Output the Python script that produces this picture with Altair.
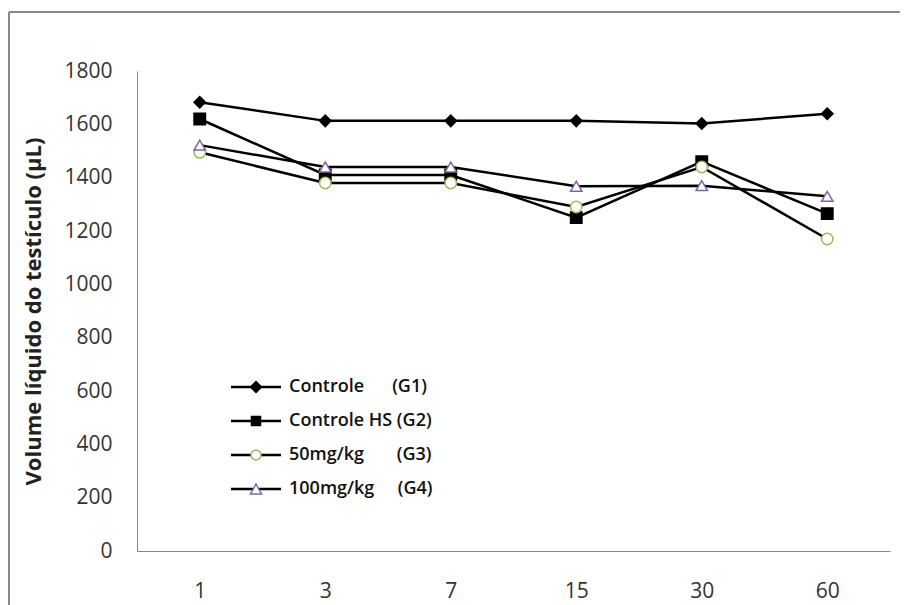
import altair as alt
import pandas as pd

NB = "\u00a0"
days = ["1", "3", "7", "15", "30", "60"]
series = [
    "Controle" + NB * 6 + "(G1)",
    "Controle HS (G2)",
    "50mg/kg" + NB * 7 + "(G3)",
    "100mg/kg" + NB * 5 + "(G4)",
]
g1 = [1683, 1613, 1613, 1613, 1603, 1640]
g2 = [1620, 1410, 1410, 1250, 1460, 1265]
g3 = [1495, 1380, 1380, 1290, 1440, 1170]
g4 = [1522, 1440, 1440, 1368, 1370, 1330]
y_ticks = [0, 200, 400, 600, 800, 1000, 1200, 1400, 1600, 1800]

marker_shapes = ["diamond", "square", "circle", "triangle-up"]
marker_fill = ["black", "black", "white", "white"]
marker_stroke = ["black", "black", "#9BBB59", "#8064A2"]

# legend line symbols (unit = 9.5px with symbolSize 361)
legend_lines = [
    "M-2.63,0L2.63,0",
    "M-2.63,0L2.63,0",
    "M-2.63,0L-0.53,0M0.53,0L2.63,0",
    "M-2.63,0L-0.32,0M0.32,0L2.63,0",
]
# legend marker symbols (unit = 10px with symbolSize 400)
legend_marks = [
    "M0,-0.55L0.55,0L0,0.55L-0.55,0Z",
    "M-0.45,-0.45L0.45,-0.45L0.45,0.45L-0.45,0.45Z",
    "M-0.5,0A0.5,0.5,0,1,0,0.5,0A0.5,0.5,0,1,0,-0.5,0Z",
    "M0,-0.5L0.55,0.5L-0.55,0.5Z",
]

rows = []
for name, vals in zip(series, [g1, g2, g3, g4]):
    for d, v in zip(days, vals):
        rows.append({"day": d, "value": v, "series": name})
df = pd.DataFrame(rows)

FONT = "Open Sans"
W, H = 753, 480

x_enc = alt.X(
    "day:O",
    sort=days,
    scale=alt.Scale(type="point", padding=0.5),
    axis=alt.Axis(
        title=None, labelAngle=0, tickSize=0, labelPadding=29, domainColor="#888888",
        labelFontSize=21, labelColor="#333333", labelFont=FONT, grid=False,
    ),
)
y_enc = alt.Y(
    "value:Q",
    scale=alt.Scale(domain=[0, 1800], nice=False),
    axis=alt.Axis(
        title="Volume líquido do testículo (μL)", values=y_ticks, format="d", tickSize=0,
        labelPadding=25, domainColor="#888888", grid=False, labelFontSize=21,
        labelColor="#333333", labelFont=FONT, titleFont=FONT, titleFontSize=22,
        titleFontWeight="bold", titleColor="#222222", titlePadding=18,
    ),
)

base = alt.Chart(df)

lines = base.mark_line(color="black", strokeWidth=2.5).encode(
    x=x_enc, y=y_enc, detail="series:N"
)
points = base.mark_point(filled=True, opacity=1, strokeWidth=1.5, size=130).encode(
    x=x_enc,
    y=y_enc,
    shape=alt.Shape("series:N", scale=alt.Scale(domain=series, range=marker_shapes), legend=None),
    fill=alt.Fill("series:N", scale=alt.Scale(domain=series, range=marker_fill), legend=None),
    stroke=alt.Stroke("series:N", scale=alt.Scale(domain=series, range=marker_stroke), legend=None),
)

LX, LY = 108, 305
leg_common = dict(
    orient="none", legendX=LX, legendY=LY, title=None,
    labelFont=FONT, labelFontSize=18, labelFontWeight=600, labelOffset=22,
    rowPadding=14, padding=0,
)

leg_lines = base.transform_filter("false").mark_point(
    filled=False, stroke="black", strokeWidth=2.5, opacity=1
).encode(
    shape=alt.Shape(
        "series:N",
        scale=alt.Scale(domain=series, range=legend_lines),
        legend=alt.Legend(
            symbolSize=361, symbolStrokeWidth=2.5, symbolStrokeColor="black",
            symbolFillColor="transparent", labelExpr="''", **leg_common
        ),
    )
)

mark_leg = dict(symbolSize=400, symbolStrokeWidth=1.5, labelColor="#111111", **leg_common)
leg_marks = base.transform_filter("false").mark_point(filled=True, opacity=1).encode(
    shape=alt.Shape("series:N", scale=alt.Scale(domain=series, range=legend_marks),
                    legend=alt.Legend(**mark_leg)),
    fill=alt.Fill("series:N", scale=alt.Scale(domain=series, range=marker_fill),
                  legend=alt.Legend(**mark_leg)),
    stroke=alt.Stroke("series:N", scale=alt.Scale(domain=series, range=marker_stroke),
                      legend=alt.Legend(**mark_leg)),
)

frame_df = pd.DataFrame({"k": [0]})
frame_top = alt.Chart(frame_df).mark_rule(stroke="#898989", strokeWidth=2).encode(
    x=alt.value(-128), x2=alt.value(W + 300), y=alt.value(-59)
)
frame_left = alt.Chart(frame_df).mark_rule(stroke="#898989", strokeWidth=2).encode(
    x=alt.value(-128), y=alt.value(-59), y2=alt.value(H + 300)
)

chart = (
    alt.layer(frame_top, frame_left, lines, points, leg_lines, leg_marks)
    .resolve_scale(shape="independent", fill="independent", stroke="independent")
    .properties(
        width=W, height=H,
        autosize=alt.AutoSizeParams(type="none"),
        padding={"left": 129, "top": 63, "right": 10, "bottom": 54},
        background="white",
    )
    .configure_view(stroke=None)
)

chart.save("out.html", embed_options={"renderer": "svg", "actions": False})
